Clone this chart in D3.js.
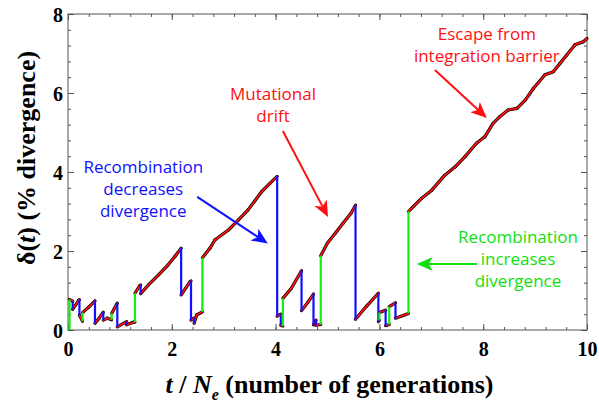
<!DOCTYPE html>
<html lang="en">
<head>
<meta charset="UTF-8">
<title>Divergence trajectory</title>
<script src="https://d3js.org/d3.v7.min.js"></script>
<style>
  body { margin: 0; background: #fff; }
  .axis .tick text { font-family: "Liberation Serif", "Times New Roman", serif; font-weight: bold; font-size: 20px; fill: #000; }
  .axis path { display: none; }
  .axis line { stroke: #555; }
  .note { font-family: "Open Sans", "Lato", sans-serif; font-size: 17px; text-anchor: middle; }
  .title { font-family: "Liberation Serif", "Times New Roman", serif; font-weight: bold; font-size: 26px; fill: #000; }
</style>
</head>
<body>
<div id="chart"></div>
<script>
// trajectory: same time twice = a recombination jump
const times = [0.03, 0.03, 0.09, 0.09, 0.20, 0.22, 0.22, 0.28, 0.28, 0.40, 0.52, 0.52, 0.60, 0.68, 0.68,
  0.76, 0.84, 0.84, 0.95, 0.95, 1.13, 1.13, 1.27, 1.29, 1.29, 1.38, 1.40, 1.40, 1.55, 1.74, 1.93, 2.06, 2.18, 2.18,
  2.35, 2.37, 2.37, 2.43, 2.43, 2.48, 2.59, 2.59, 2.74, 2.83, 3.09, 3.28, 3.47, 3.73, 3.89, 4.03, 4.03,
  4.10, 4.10, 4.14, 4.14, 4.30, 4.50, 4.50, 4.62, 4.73, 4.73, 4.78, 4.78, 4.87, 4.87, 5.00, 5.15, 5.30, 5.45, 5.54, 5.54,
  5.75, 5.98, 5.98, 6.00, 6.00, 6.12, 6.12, 6.19, 6.19, 6.31, 6.31, 6.56, 6.56,
  6.62, 6.81, 7.01, 7.26, 7.46, 7.65, 7.87, 8.03, 8.19, 8.32, 8.48, 8.65, 8.81, 8.97, 9.19, 9.35, 9.48, 9.61, 9.77, 9.93, 10.0];
const delta = [0.00, 0.77, 0.73, 0.52, 0.74, 0.77, 0.38, 0.22, 0.44, 0.58, 0.74, 0.17, 0.30, 0.45, 0.25,
  0.30, 0.26, 0.42, 0.68, 0.08, 0.21, 0.13, 0.20, 0.20, 0.93, 1.12, 1.14, 0.92, 1.14, 1.39, 1.65, 1.86, 2.07, 0.89,
  1.22, 1.24, 0.25, 0.30, 0.17, 0.38, 0.46, 1.83, 2.08, 2.28, 2.53, 2.78, 3.04, 3.50, 3.71, 3.89, 0.35,
  0.40, 0.12, 0.10, 0.80, 1.05, 1.50, 0.49, 0.70, 0.91, 0.13, 0.25, 0.12, 0.14, 1.88, 2.20, 2.45, 2.70, 2.95, 3.16, 0.27,
  0.60, 0.93, 0.21, 0.25, 0.44, 0.50, 0.11, 0.14, 0.59, 0.69, 0.30, 0.42, 3.00,
  3.08, 3.33, 3.54, 3.92, 4.13, 4.39, 4.73, 4.89, 5.23, 5.40, 5.57, 5.61, 5.82, 6.12, 6.46, 6.54, 6.75, 6.96, 7.22, 7.30, 7.38];

const xTicks = [0, 2, 4, 6, 8, 10];
const yTicks = [0, 2, 4, 6, 8];
const xMinor = d3.range(0, 10.001, 0.4);
const yMinor = d3.range(0, 8.001, 0.4);

// annotations: text lines and arrows, in data units
const notes = [
  {lines: ["Recombination", "decreases", "divergence"], t: 1.45, d: 3.97, color: "#1010ff", from: [2.49, 3.37], to: [3.85, 2.19]},
  {lines: ["Mutational", "drift"], t: 3.95, d: 5.82, color: "#ff1010", from: [4.14, 5.04], to: [5.01, 2.86]},
  {lines: ["Escape from", "integration barrier"], t: 8.07, d: 7.34, color: "#ff1010", from: [7.07, 6.58], to: [8.07, 5.37]},
  {lines: ["Recombination", "increases", "divergence"], t: 8.67, d: 2.20, color: "#10e010", from: [7.88, 1.67], to: [6.72, 1.67]}
];

const W = 599, H = 413;
const margin = {top: 14, right: 12, bottom: 83, left: 68};
const width = W - margin.left - margin.right, height = H - margin.top - margin.bottom;

const x = d3.scaleLinear().domain([0, 10]).range([0, width]);
const y = d3.scaleLinear().domain([0, 8]).range([height, 0]);

const svg = d3.select("#chart").append("svg")
  .attr("width", W).attr("height", H)
  .append("g")
  .attr("transform", "translate(" + margin.left + "," + margin.top + ")");

// frame
svg.append("rect").attr("width", width).attr("height", height)
  .attr("fill", "none").attr("stroke", "#555").attr("stroke-width", 1);

// ticks: inward, on all four sides
function ticks(axis, vals, size, labels) {
  return axis.tickValues(vals).tickSizeInner(-size).tickSizeOuter(0).tickPadding(labels ? 10 : 0)
    .tickFormat(labels ? d3.format("d") : "");
}
svg.append("g").attr("class", "axis").attr("transform", "translate(0," + height + ")")
  .call(ticks(d3.axisBottom(x), xMinor, 3, false));
svg.append("g").attr("class", "axis xlab").attr("transform", "translate(0," + height + ")")
  .call(ticks(d3.axisBottom(x), xTicks, 6, true));
svg.append("g").attr("class", "axis").call(ticks(d3.axisTop(x), xMinor, 3, false));
svg.append("g").attr("class", "axis").call(ticks(d3.axisTop(x), xTicks, 6, false));
svg.append("g").attr("class", "axis").call(ticks(d3.axisLeft(y), yMinor, 3, false));
svg.append("g").attr("class", "axis ylab").call(ticks(d3.axisLeft(y), yTicks, 6, true));
svg.append("g").attr("class", "axis").attr("transform", "translate(" + width + ",0)")
  .call(ticks(d3.axisRight(y), yMinor, 3, false));
svg.append("g").attr("class", "axis").attr("transform", "translate(" + width + ",0)")
  .call(ticks(d3.axisRight(y), yTicks, 6, false));
svg.selectAll(".xlab .tick text").attr("dy", null).attr("y", 26);
svg.selectAll(".ylab .tick text").attr("dy", "0.35em").attr("x", -5);

// trajectory segments
const segs = d3.range(times.length - 1).map(i => ({
  x1: times[i], y1: delta[i], x2: times[i + 1], y2: delta[i + 1],
  kind: times[i] === times[i + 1] ? (delta[i + 1] < delta[i] ? "down" : "up") : "drift"
}));
const drift = segs.filter(s => s.kind === "drift");
const jumps = segs.filter(s => s.kind !== "drift");

svg.append("g").selectAll("line").data(drift).join("line")
  .attr("x1", d => x(d.x1)).attr("y1", d => y(d.y1)).attr("x2", d => x(d.x2)).attr("y2", d => y(d.y2))
  .attr("stroke", "#000").attr("stroke-width", 3.2).attr("stroke-linecap", "round");
svg.append("g").selectAll("line").data(drift).join("line")
  .attr("x1", d => x(d.x1)).attr("y1", d => y(d.y1)).attr("x2", d => x(d.x2)).attr("y2", d => y(d.y2))
  .attr("stroke", "#ff1010").attr("stroke-width", 1.8).attr("stroke-linecap", "round");
svg.append("g").selectAll("line").data(jumps).join("line")
  .attr("x1", d => x(d.x1)).attr("y1", d => y(d.y1)).attr("x2", d => x(d.x2)).attr("y2", d => y(d.y2))
  .attr("stroke", d => d.kind === "down" ? "#1010ff" : "#10f010").attr("stroke-width", 2.2);

// annotations
const ng = svg.append("g");
notes.forEach(n => {
  const t = ng.append("text").attr("class", "note").attr("fill", n.color)
    .attr("x", x(n.t)).attr("y", y(n.d));
  n.lines.forEach((l, i) => t.append("tspan").attr("x", x(n.t)).attr("dy", i ? 21.7 : 0).text(l));
  const x1 = x(n.from[0]), y1 = y(n.from[1]), x2 = x(n.to[0]), y2 = y(n.to[1]);
  const a = Math.atan2(y2 - y1, x2 - x1), L = 16, hw = 7, notch = 4;
  ng.append("line").attr("x1", x1).attr("y1", y1)
    .attr("x2", x2 - (L - notch) * Math.cos(a)).attr("y2", y2 - (L - notch) * Math.sin(a))
    .attr("stroke", n.color).attr("stroke-width", 2);
  const p = (dl, dw) => [x2 - dl * Math.cos(a) - dw * Math.sin(a), y2 - dl * Math.sin(a) + dw * Math.cos(a)];
  ng.append("path").attr("fill", n.color)
    .attr("d", "M" + [[x2, y2], p(L, hw), p(L - notch, 0), p(L, -hw)].join("L") + "Z");
});

// axis titles
const xt = svg.append("text").attr("class", "title").attr("text-anchor", "middle")
  .attr("x", width / 2 + 2).attr("y", height + 63);
xt.append("tspan").attr("font-style", "italic").text("t");
xt.append("tspan").text(" / ");
xt.append("tspan").attr("font-style", "italic").text("N");
xt.append("tspan").attr("font-style", "italic").attr("font-size", 16).attr("dy", 7).text("e");
xt.append("tspan").attr("dy", -7).text(" (number of generations)");

const yt = svg.append("text").attr("class", "title").attr("text-anchor", "middle")
  .attr("transform", "translate(-33," + (158 - margin.top) + ") rotate(-90)");
yt.append("tspan").text("δ(");
yt.append("tspan").attr("font-style", "italic").text("t");
yt.append("tspan").text(") (% divergence)");
</script>
</body>
</html>
